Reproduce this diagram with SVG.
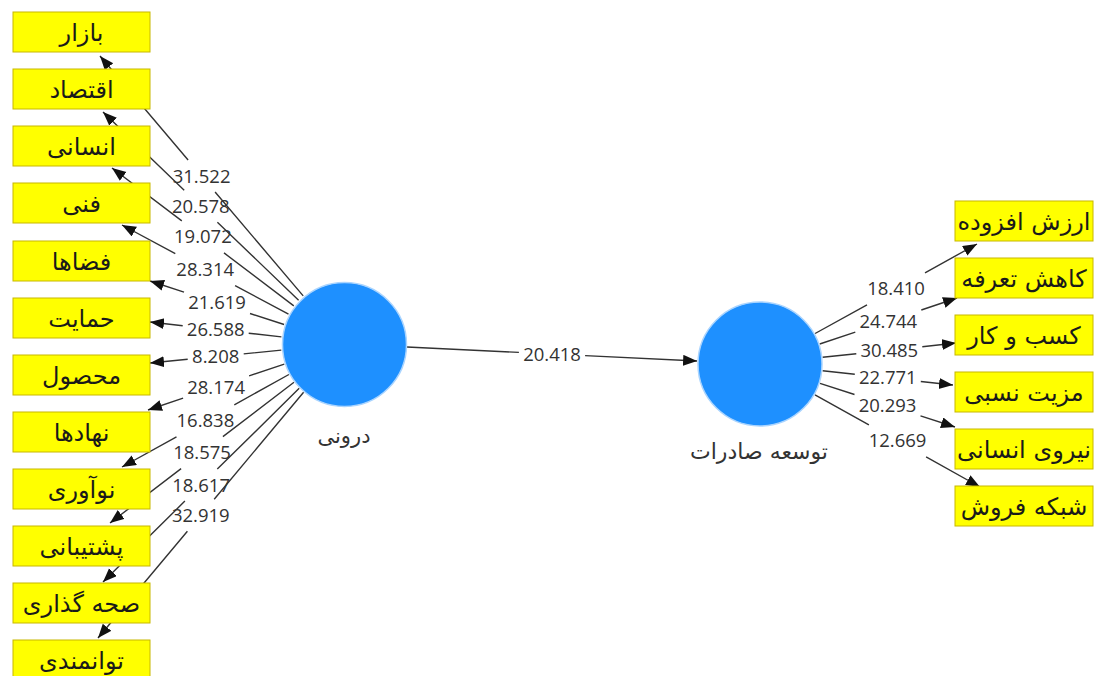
<svg xmlns="http://www.w3.org/2000/svg" width="1094" height="676" viewBox="0 0 1094 676">
<style>
.box{fill:#ffff00;stroke:#c8b800;stroke-width:1}
.bt{font-family:'DejaVu Sans',sans-serif;font-size:24px;fill:#1a1a1a;text-anchor:middle}
.lv{fill:#1e90ff;stroke:#a9d4ff;stroke-width:1.5}
.nl{font-family:'DejaVu Sans',sans-serif;fill:#333;text-anchor:middle}
.ln{fill:none;stroke:#333;stroke-width:1.4}
.lb{font-family:'Open Sans',sans-serif;font-size:18.5px;fill:#333;text-anchor:middle}
</style>
<defs>
<marker id="arr" markerUnits="userSpaceOnUse" markerWidth="15" markerHeight="12" refX="14" refY="5.5" orient="auto">
<path d="M0,0 L14,5.5 L0,11 z" fill="#111"/>
</marker>
</defs>
<rect width="1094" height="676" fill="#fff"/>
<g id="connectors">
<path class="ln" d="M303.2,295.9 L215.1,192 M188.1,160 L100,56" marker-end="url(#arr)"/>
<text class="lb" x="201.6" y="182.5">31.522</text>
<path class="ln" d="M298.6,300.3 L217.4,222.2 M184.2,190.2 L103,112" marker-end="url(#arr)"/>
<text class="lb" x="200.8" y="212.7">20.578</text>
<path class="ln" d="M293.8,305.9 L224,252.9 M181.8,220.9 L112,168" marker-end="url(#arr)"/>
<text class="lb" x="202.9" y="243.4">19.072</text>
<path class="ln" d="M288.5,314.2 L235.1,285.6 M175.3,253.6 L122,225" marker-end="url(#arr)"/>
<text class="lb" x="205.2" y="276.1">28.314</text>
<path class="ln" d="M284.1,324.5 L250,313.5 M184,292.1 L150,281" marker-end="url(#arr)"/>
<text class="lb" x="217" y="309.3">21.619</text>
<path class="ln" d="M281.4,336.9 L248.7,333.2 M182.7,325.8 L150,322" marker-end="url(#arr)"/>
<text class="lb" x="215.7" y="336">26.588</text>
<path class="ln" d="M281.3,350.1 L243.7,353.9 M187.7,359.3 L150,363" marker-end="url(#arr)"/>
<text class="lb" x="215.7" y="363.1">8.208</text>
<path class="ln" d="M284.3,364.1 L249.1,375.9 M183.1,398.1 L148,410" marker-end="url(#arr)"/>
<text class="lb" x="216.1" y="393.5">28.174</text>
<path class="ln" d="M288.9,374.5 L234.3,404.8 M176.5,436.8 L122,467" marker-end="url(#arr)"/>
<text class="lb" x="205.4" y="427.3">16.838</text>
<path class="ln" d="M294,382.3 L222.9,436.6 M181.1,468.6 L110,523" marker-end="url(#arr)"/>
<text class="lb" x="202" y="459.1">18.575</text>
<path class="ln" d="M299.2,388.3 L217.3,469.1 M184.9,501.1 L103,582" marker-end="url(#arr)"/>
<text class="lb" x="201.1" y="491.6">18.617</text>
<path class="ln" d="M303.6,392.3 L214.2,499.2 M187.4,531.2 L98,638" marker-end="url(#arr)"/>
<text class="lb" x="200.8" y="521.7">32.919</text>
<path class="ln" d="M406.9,347 L518.9,352.4 M585.1,355.6 L697.1,361" marker-end="url(#arr)"/>
<text class="lb" x="552" y="360.5">20.418</text>
<path class="ln" d="M815.1,333.5 L867,304.8 M925,272.8 L977,244" marker-end="url(#arr)"/>
<text class="lb" x="896" y="295.3">18.410</text>
<path class="ln" d="M819.7,344 L855.3,332.1 M921.3,310 L957,298" marker-end="url(#arr)"/>
<text class="lb" x="888.3" y="327.5">24.744</text>
<path class="ln" d="M822.6,357.3 L856.3,353.7 M922.3,346.7 L956,343" marker-end="url(#arr)"/>
<text class="lb" x="889.3" y="356.7">30.485</text>
<path class="ln" d="M822.6,370.8 L854.8,374.3 M920.8,381.5 L953,385" marker-end="url(#arr)"/>
<text class="lb" x="887.8" y="384.4">22.771</text>
<path class="ln" d="M820,383.4 L854.5,394.5 M920.5,415.9 L955,427" marker-end="url(#arr)"/>
<text class="lb" x="887.5" y="411.7">20.293</text>
<path class="ln" d="M815,394.8 L868.9,424.9 M926.1,456.9 L980,487" marker-end="url(#arr)"/>
<text class="lb" x="897.5" y="447.4">12.669</text>
</g>
<g id="node-daruni">
<circle class="lv" cx="344.5" cy="344.5" r="62"/>
<text class="nl" x="344" y="443" font-size="21">درونی</text>
</g>
<g id="node-tose-e-saderat">
<circle class="lv" cx="760" cy="364" r="62"/>
<text class="nl" x="759" y="459" font-size="22">توسعه صادرات</text>
</g>
<g id="ind-bazar"><rect class="box" x="13" y="12" width="137" height="40"/><text class="bt" x="81.5" y="41">بازار</text></g>
<g id="ind-eghtesad"><rect class="box" x="13" y="69" width="137" height="40"/><text class="bt" x="81.5" y="98">اقتصاد</text></g>
<g id="ind-ensani"><rect class="box" x="13" y="126" width="137" height="40"/><text class="bt" x="81.5" y="155">انسانی</text></g>
<g id="ind-fanni"><rect class="box" x="13" y="183" width="137" height="40"/><text class="bt" x="81.5" y="212">فنی</text></g>
<g id="ind-fazaha"><rect class="box" x="13" y="241" width="137" height="40"/><text class="bt" x="81.5" y="270">فضاها</text></g>
<g id="ind-hemayat"><rect class="box" x="13" y="298" width="137" height="40"/><text class="bt" x="81.5" y="327">حمایت</text></g>
<g id="ind-mahsul"><rect class="box" x="13" y="355" width="137" height="40"/><text class="bt" x="81.5" y="384">محصول</text></g>
<g id="ind-nahadha"><rect class="box" x="13" y="412" width="137" height="40"/><text class="bt" x="81.5" y="441">نهادها</text></g>
<g id="ind-noavari"><rect class="box" x="13" y="469" width="137" height="40"/><text class="bt" x="81.5" y="498">نوآوری</text></g>
<g id="ind-poshtibani"><rect class="box" x="13" y="526" width="137" height="40"/><text class="bt" x="81.5" y="555">پشتیبانی</text></g>
<g id="ind-sehhe-gozari"><rect class="box" x="13" y="583" width="137" height="40"/><text class="bt" x="81.5" y="612">صحه گذاری</text></g>
<g id="ind-tavanmandi"><rect class="box" x="13" y="640" width="137" height="40"/><text class="bt" x="81.5" y="669">توانمندی</text></g>
<g id="ind-arzesh-afzude"><rect class="box" x="955" y="201" width="138" height="40"/><text class="bt" x="1024" y="230">ارزش افزوده</text></g>
<g id="ind-kahesh-tarefe"><rect class="box" x="955" y="258" width="138" height="40"/><text class="bt" x="1024" y="287">کاهش تعرفه</text></g>
<g id="ind-kasb-o-kar"><rect class="box" x="955" y="315" width="138" height="40"/><text class="bt" x="1024" y="344">کسب و کار</text></g>
<g id="ind-mazit-nesbi"><rect class="box" x="955" y="372" width="138" height="40"/><text class="bt" x="1024" y="401">مزیت نسبی</text></g>
<g id="ind-niruye-ensani"><rect class="box" x="955" y="429" width="138" height="40"/><text class="bt" x="1024" y="458">نیروی انسانی</text></g>
<g id="ind-shabake-forush"><rect class="box" x="955" y="486" width="138" height="40"/><text class="bt" x="1024" y="515">شبکه فروش</text></g>
</svg>
